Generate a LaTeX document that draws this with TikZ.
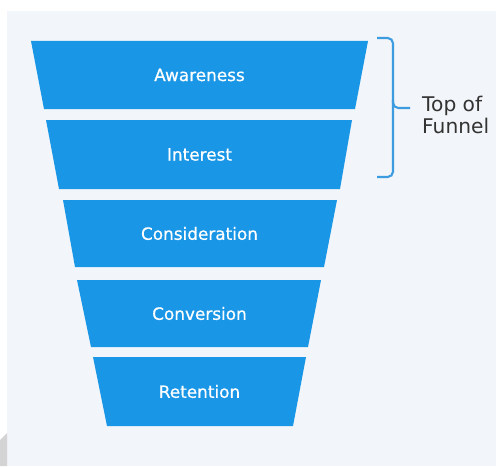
\documentclass[tikz,border=0pt]{standalone}
\usepackage{fontspec}
\setmainfont{DejaVu Sans}
\newfontfamily\stagefont[FakeBold=0.6]{DejaVu Sans}
\definecolor{panel}{HTML}{F2F5F9}
\definecolor{stage}{HTML}{1A96E6}
\definecolor{bracket}{HTML}{3D9BE0}
\definecolor{caption}{HTML}{333333}
\tikzset{
	stagetext/.style={text=white, font=\stagefont\fontsize{9.6}{11}\selectfont},
	captiontext/.style={text=caption, align=left, anchor=west, font=\fontsize{11.5}{12.5}\selectfont}
}

\begin{document}
\begin{tikzpicture}[x=0.02cm, y=-0.02cm]
			%%%%% START %%%%%
			\useasboundingbox (0, 0) rectangle (496, 466);
			\fill[white] (0, 0) rectangle (496, 466);
			\fill[panel] (7, 11) rectangle (496, 466);
			\fill[black!17] (0, 440) -- (7, 433) -- (7, 466) -- (0, 466) -- cycle;
			
			\fill[stage] (31, 41) -- (368, 41) -- (355, 109) -- (44, 109) -- cycle;
			\node[stagetext] (awareness) at (199.5, 75) {Awareness};
			
			\fill[stage] (46, 120) -- (352, 120) -- (340, 189) -- (59, 189) -- cycle;
			\node[stagetext] (interest) at (199.5, 154.5) {Interest};
			
			\fill[stage] (63, 200) -- (337, 200) -- (324, 267) -- (75, 267) -- cycle;
			\node[stagetext] (consideration) at (199.5, 233.5) {Consideration};
			
			\fill[stage] (77, 280) -- (321, 280) -- (308, 347) -- (91, 347) -- cycle;
			\node[stagetext] (conversion) at (199.5, 313.5) {Conversion};
			
			\fill[stage] (93, 357) -- (306, 357) -- (293, 426) -- (107, 426) -- cycle;
			\node[stagetext] (retention) at (199.5, 391.5) {Retention};
			
			\node[captiontext] (topfunnel) at (416, 115) {Top of\\Funnel};
			
			\coordinate (bracetip) at (410, 108);
			\draw[bracket, line width=1.2pt, rounded corners=3] (377, 38) -- (393, 38) -- (393, 108) -- (bracetip);
			\draw[bracket, line width=1.2pt, rounded corners=3] (393, 100) -- (393, 177) -- (377, 177);
			%%%%% END %%%%%
\end{tikzpicture}
\end{document}
